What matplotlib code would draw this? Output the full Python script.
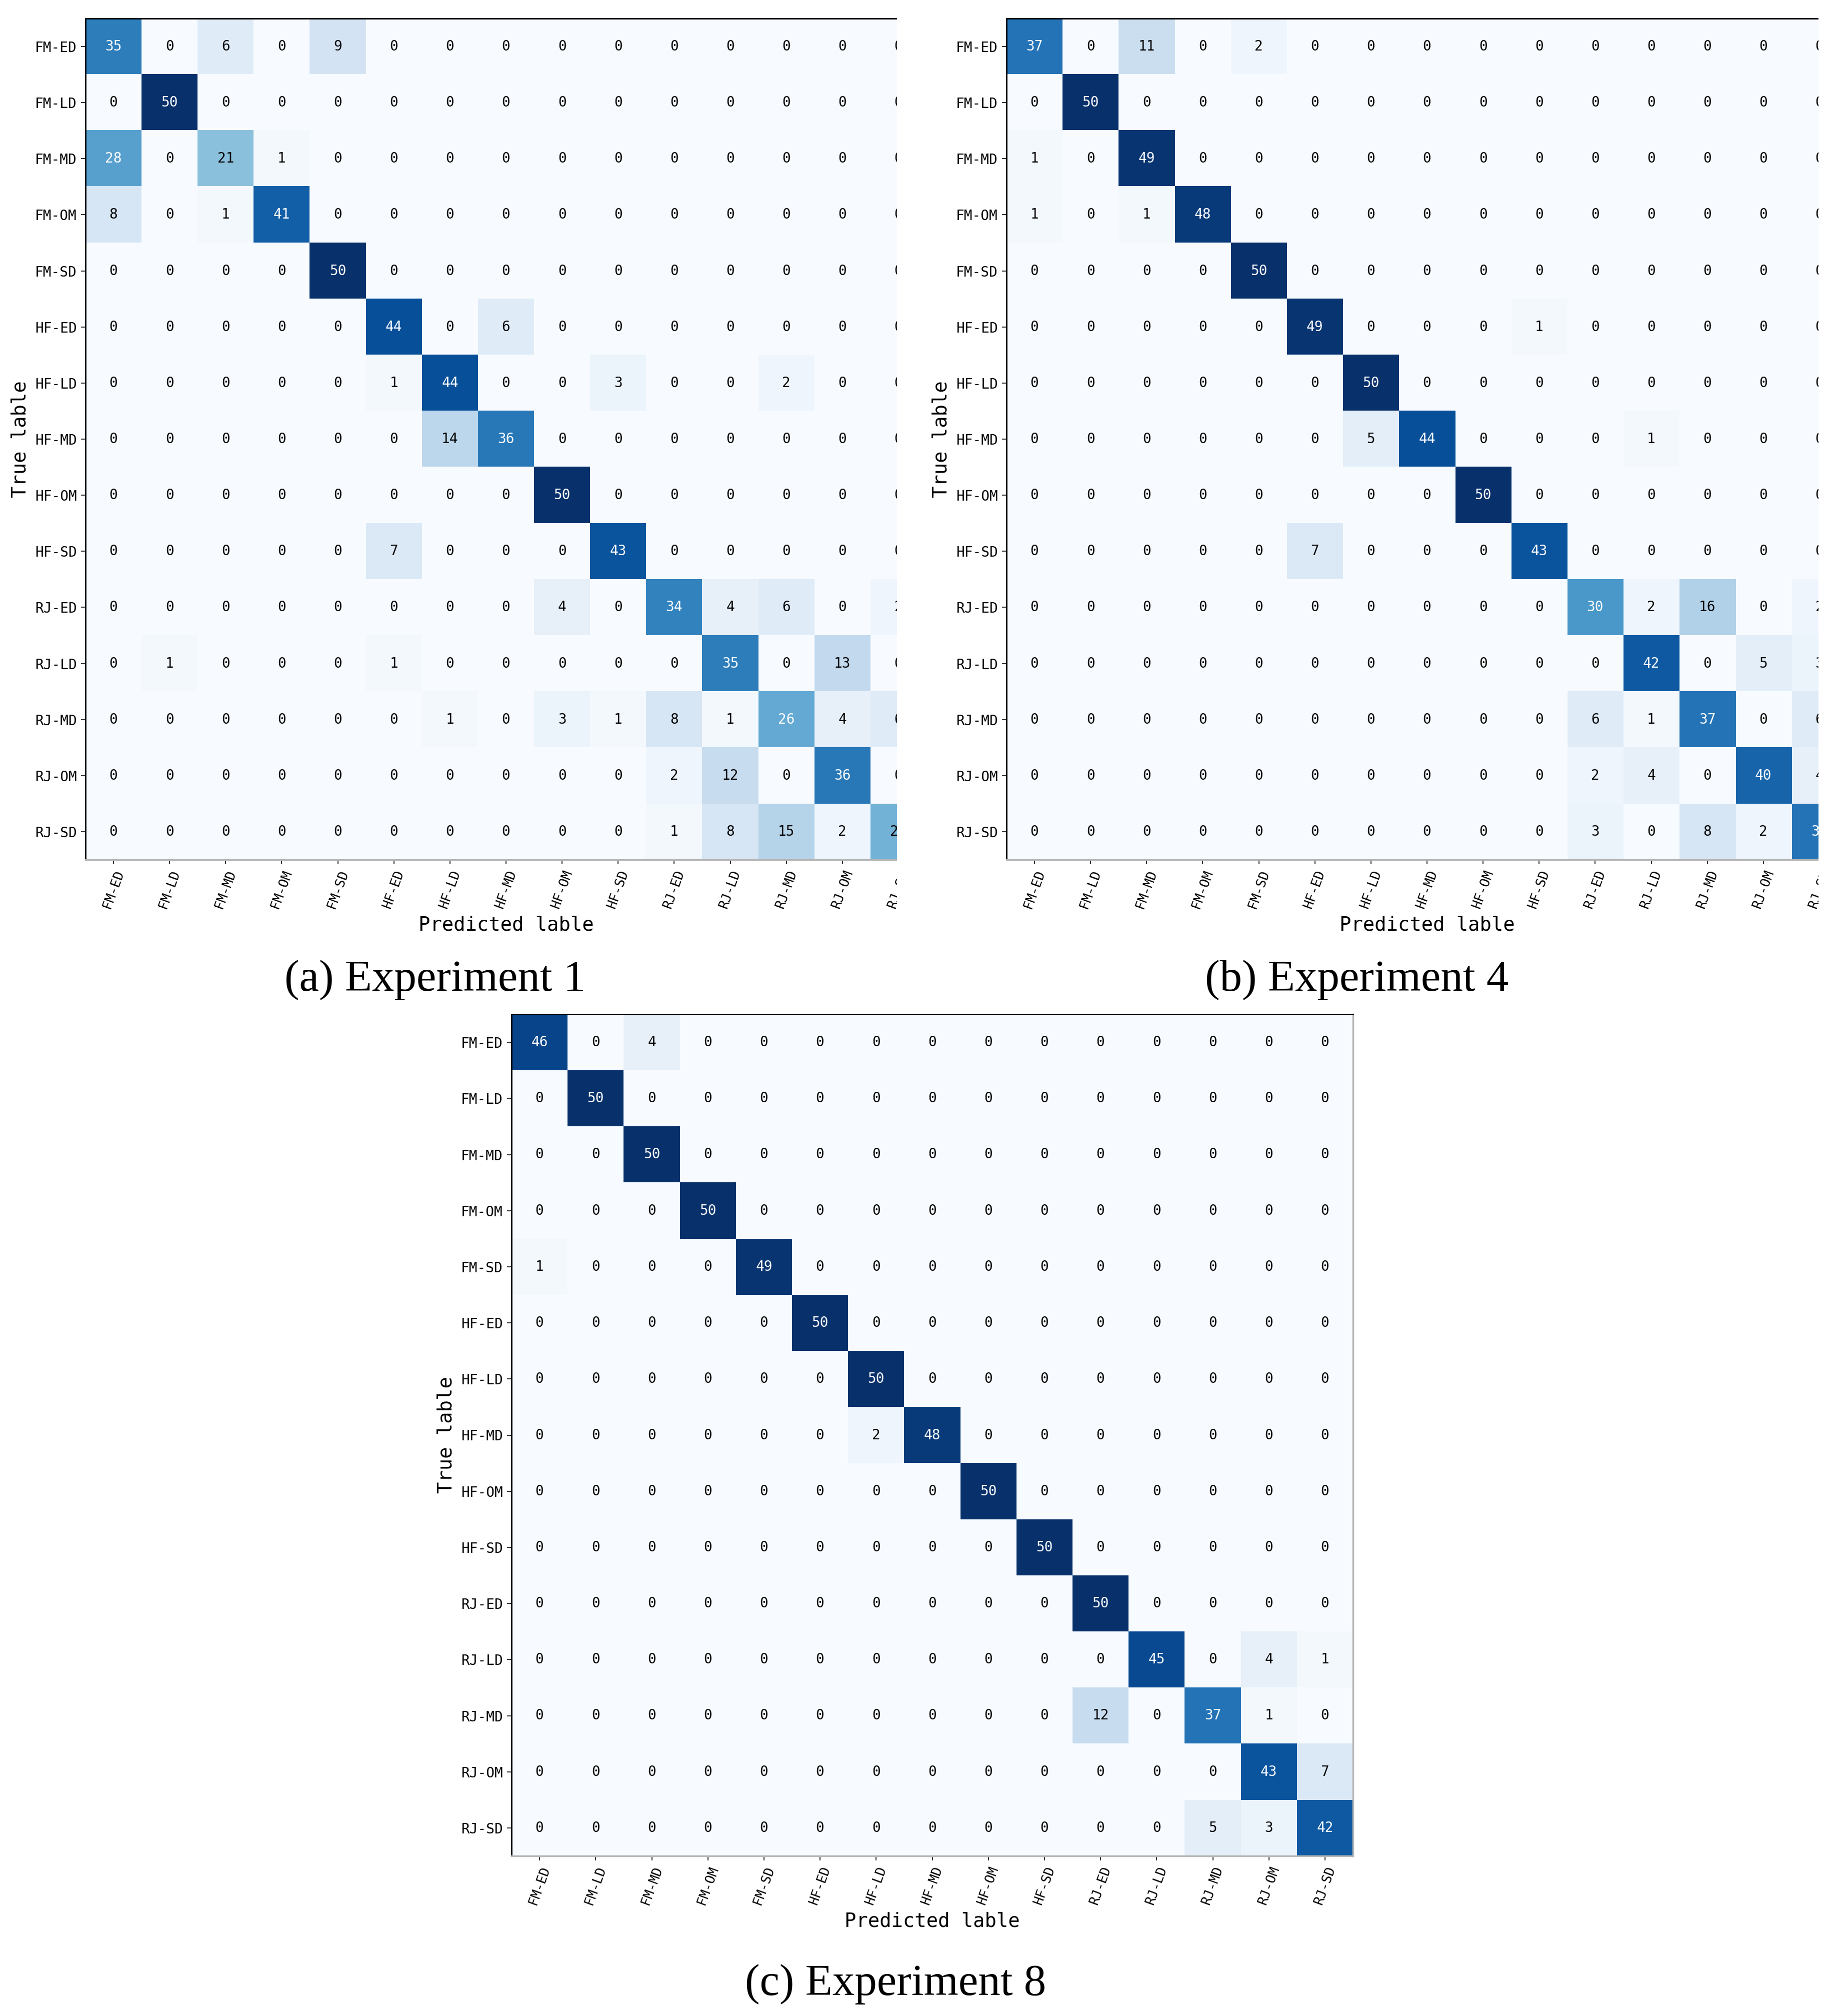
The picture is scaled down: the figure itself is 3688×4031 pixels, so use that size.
import numpy as np
import matplotlib.pyplot as plt
from matplotlib.patches import Rectangle

labels = ["FM-ED", "FM-LD", "FM-MD", "FM-OM", "FM-SD",
          "HF-ED", "HF-LD", "HF-MD", "HF-OM", "HF-SD",
          "RJ-ED", "RJ-LD", "RJ-MD", "RJ-OM", "RJ-SD"]

# rows = true label, cols = predicted label
cm_exp1 = [
    [35, 0, 6, 0, 9, 0, 0, 0, 0, 0, 0, 0, 0, 0, 0],
    [0, 50, 0, 0, 0, 0, 0, 0, 0, 0, 0, 0, 0, 0, 0],
    [28, 0, 21, 1, 0, 0, 0, 0, 0, 0, 0, 0, 0, 0, 0],
    [8, 0, 1, 41, 0, 0, 0, 0, 0, 0, 0, 0, 0, 0, 0],
    [0, 0, 0, 0, 50, 0, 0, 0, 0, 0, 0, 0, 0, 0, 0],
    [0, 0, 0, 0, 0, 44, 0, 6, 0, 0, 0, 0, 0, 0, 0],
    [0, 0, 0, 0, 0, 1, 44, 0, 0, 3, 0, 0, 2, 0, 0],
    [0, 0, 0, 0, 0, 0, 14, 36, 0, 0, 0, 0, 0, 0, 0],
    [0, 0, 0, 0, 0, 0, 0, 0, 50, 0, 0, 0, 0, 0, 0],
    [0, 0, 0, 0, 0, 7, 0, 0, 0, 43, 0, 0, 0, 0, 0],
    [0, 0, 0, 0, 0, 0, 0, 0, 4, 0, 34, 4, 6, 0, 2],
    [0, 1, 0, 0, 0, 1, 0, 0, 0, 0, 0, 35, 0, 13, 0],
    [0, 0, 0, 0, 0, 0, 1, 0, 3, 1, 8, 1, 26, 4, 6],
    [0, 0, 0, 0, 0, 0, 0, 0, 0, 0, 2, 12, 0, 36, 0],
    [0, 0, 0, 0, 0, 0, 0, 0, 0, 0, 1, 8, 15, 2, 24],
]

cm_exp4 = [
    [37, 0, 11, 0, 2, 0, 0, 0, 0, 0, 0, 0, 0, 0, 0],
    [0, 50, 0, 0, 0, 0, 0, 0, 0, 0, 0, 0, 0, 0, 0],
    [1, 0, 49, 0, 0, 0, 0, 0, 0, 0, 0, 0, 0, 0, 0],
    [1, 0, 1, 48, 0, 0, 0, 0, 0, 0, 0, 0, 0, 0, 0],
    [0, 0, 0, 0, 50, 0, 0, 0, 0, 0, 0, 0, 0, 0, 0],
    [0, 0, 0, 0, 0, 49, 0, 0, 0, 1, 0, 0, 0, 0, 0],
    [0, 0, 0, 0, 0, 0, 50, 0, 0, 0, 0, 0, 0, 0, 0],
    [0, 0, 0, 0, 0, 0, 5, 44, 0, 0, 0, 1, 0, 0, 0],
    [0, 0, 0, 0, 0, 0, 0, 0, 50, 0, 0, 0, 0, 0, 0],
    [0, 0, 0, 0, 0, 7, 0, 0, 0, 43, 0, 0, 0, 0, 0],
    [0, 0, 0, 0, 0, 0, 0, 0, 0, 0, 30, 2, 16, 0, 2],
    [0, 0, 0, 0, 0, 0, 0, 0, 0, 0, 0, 42, 0, 5, 3],
    [0, 0, 0, 0, 0, 0, 0, 0, 0, 0, 6, 1, 37, 0, 6],
    [0, 0, 0, 0, 0, 0, 0, 0, 0, 0, 2, 4, 0, 40, 4],
    [0, 0, 0, 0, 0, 0, 0, 0, 0, 0, 3, 0, 8, 2, 37],
]

cm_exp8 = [
    [46, 0, 4, 0, 0, 0, 0, 0, 0, 0, 0, 0, 0, 0, 0],
    [0, 50, 0, 0, 0, 0, 0, 0, 0, 0, 0, 0, 0, 0, 0],
    [0, 0, 50, 0, 0, 0, 0, 0, 0, 0, 0, 0, 0, 0, 0],
    [0, 0, 0, 50, 0, 0, 0, 0, 0, 0, 0, 0, 0, 0, 0],
    [1, 0, 0, 0, 49, 0, 0, 0, 0, 0, 0, 0, 0, 0, 0],
    [0, 0, 0, 0, 0, 50, 0, 0, 0, 0, 0, 0, 0, 0, 0],
    [0, 0, 0, 0, 0, 0, 50, 0, 0, 0, 0, 0, 0, 0, 0],
    [0, 0, 0, 0, 0, 0, 2, 48, 0, 0, 0, 0, 0, 0, 0],
    [0, 0, 0, 0, 0, 0, 0, 0, 50, 0, 0, 0, 0, 0, 0],
    [0, 0, 0, 0, 0, 0, 0, 0, 0, 50, 0, 0, 0, 0, 0],
    [0, 0, 0, 0, 0, 0, 0, 0, 0, 0, 50, 0, 0, 0, 0],
    [0, 0, 0, 0, 0, 0, 0, 0, 0, 0, 0, 45, 0, 4, 1],
    [0, 0, 0, 0, 0, 0, 0, 0, 0, 0, 12, 0, 37, 1, 0],
    [0, 0, 0, 0, 0, 0, 0, 0, 0, 0, 0, 0, 0, 43, 7],
    [0, 0, 0, 0, 0, 0, 0, 0, 0, 0, 0, 0, 5, 3, 42],
]

captions = ["(a) Experiment 1", "(b) Experiment 4", "(c) Experiment 8"]

W, H = 3688, 4031
MONO = "DejaVu Sans Mono"

fig = plt.figure(figsize=(W / 100, H / 100), dpi=100)


def px_axes(left, top, size):
    # axes placed with pixel coords measured from the top-left corner
    return fig.add_axes([left / W, 1 - (top + size) / H, size / W, size / H])


def plot_cm(ax, cm):
    cm = np.array(cm)
    ax.imshow(cm, cmap="Blues", vmin=0, vmax=50, interpolation="nearest",
              aspect="equal")
    thresh = cm.max() / 2.0
    for i in range(cm.shape[0]):
        for j in range(cm.shape[1]):
            ax.text(j, i, str(cm[i, j]), ha="center", va="center",
                    fontsize=20, family=MONO,
                    color="white" if cm[i, j] > thresh else "black")
    n = len(labels)
    ax.set_xticks(range(n))
    ax.set_yticks(range(n))
    ax.set_xticklabels(labels, rotation=70, ha="center", fontsize=19,
                       family=MONO)
    ax.set_yticklabels(labels, fontsize=20, family=MONO)
    ax.tick_params(length=6.5, width=1.5, pad=6, color="#333333")
    ax.set_xlabel("Predicted lable", fontsize=28, family=MONO)
    ax.set_ylabel("True lable", fontsize=28, family=MONO)
    ax.xaxis.set_label_coords(0.5, -0.066)
    ax.yaxis.set_label_coords(-0.066, 0.5)
    for side in ["left", "top"]:
        ax.spines[side].set_color("black")
        ax.spines[side].set_linewidth(2)
    for side in ["right", "bottom"]:
        ax.spines[side].set_color("#b5b5b5")
        ax.spines[side].set_linewidth(2.5)


ax1 = px_axes(171, 37, 1682)
plot_cm(ax1, cm_exp1)
ax2 = px_axes(2013, 37, 1682)
plot_cm(ax2, cm_exp4)
ax3 = px_axes(1023, 2028, 1683)
plot_cm(ax3, cm_exp8)

# panels (a) and (b) are cropped at their last column in the original
fig.add_artist(Rectangle((1794 / W, 1 - 1905 / H), (1861 - 1794) / W,
                         1905 / H, transform=fig.transFigure,
                         facecolor="white", edgecolor="none", zorder=10))
fig.add_artist(Rectangle((3637 / W, 1 - 1905 / H), (W - 3637) / W,
                         1905 / H, transform=fig.transFigure,
                         facecolor="white", edgecolor="none", zorder=10))

cap_pos = [(870, 1960), (2714, 1960), (1791, 3968)]
for txt, (x, y) in zip(captions, cap_pos):
    fig.text(x / W, 1 - y / H, txt, ha="center", va="center",
             fontsize=64, family="Liberation Serif")

fig.savefig("out.png", dpi=100, facecolor="white")
